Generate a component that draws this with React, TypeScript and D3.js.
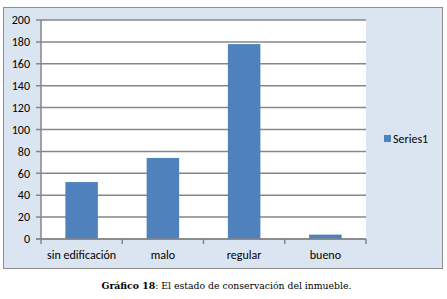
import React from 'react';
import * as d3 from 'd3';

const categories = ['sin edificación', 'malo', 'regular', 'bueno'];
const values = [52, 74, 178, 4];
const yTicks = [0, 20, 40, 60, 80, 100, 120, 140, 160, 180, 200];
const seriesName = 'Series1';

const W = 447;
const H = 299;
const plot = {left: 41, top: 20, right: 366, bottom: 239};
const font = 'Calibri, Carlito, "Open Sans", sans-serif';

export default function App() {
    const x = d3.scaleBand<string>()
        .domain(categories)
        .range([plot.left, plot.right])
        .paddingInner(0.6)
        .paddingOuter(0.3);
    const y = d3.scaleLinear().domain([0, 200]).range([plot.bottom, plot.top]);

    const step = (plot.right - plot.left) / categories.length;
    const bounds = d3.range(categories.length + 1).map(i => plot.left + i * step);

    return (
        <svg width={W} height={H} style={{position: 'absolute', left: 0, top: 0}}>
            <rect x={0} y={0} width={W} height={H} fill="#fff"/>
            <rect x={3.5} y={7.5} width={439} height={261} fill="#dbe5f1" stroke="#8e8e8e" strokeWidth={1}/>
            <rect x={plot.left} y={plot.top} width={plot.right - plot.left} height={plot.bottom - plot.top} fill="#fff"/>
            {yTicks.map(t => (
                <g key={t}>
                    <line x1={plot.left - 5} x2={plot.right} y1={y(t)} y2={y(t)}
                          stroke="#868686" strokeWidth={1.5}/>
                    <text x={30} y={y(t)} dy="0.35em" textAnchor="end"
                          fontFamily={font} fontSize={12} fill="#000">{t}</text>
                </g>
            ))}
            {categories.map((c, i) => (
                <rect key={c} x={x(c)} y={y(values[i])} width={x.bandwidth()}
                      height={plot.bottom - y(values[i])} fill="#4f81bd"/>
            ))}
            <line x1={plot.left} x2={plot.left} y1={plot.top} y2={plot.bottom}
                  stroke="#868686" strokeWidth={1.5}/>
            <line x1={plot.left - 5} x2={plot.right} y1={plot.bottom} y2={plot.bottom}
                  stroke="#868686" strokeWidth={1.5}/>
            {bounds.map((b, i) => (
                <line key={i} x1={b} x2={b} y1={plot.bottom} y2={plot.bottom + 5}
                      stroke="#868686" strokeWidth={1.5}/>
            ))}
            {categories.map(c => (
                <text key={c} x={(x(c) as number) + x.bandwidth() / 2} y={255} dy="0.35em"
                      textAnchor="middle" fontFamily={font} fontSize={12} fill="#000">{c}</text>
            ))}
            <rect x={384} y={135} width={7} height={7} fill="#4f81bd"/>
            <text x={393} y={138.5} dy="0.35em" fontFamily={font} fontSize={12} fill="#000">{seriesName}</text>
            <text x={W / 2 + 3} y={288.5} textAnchor="middle" fontFamily='"Century Schoolbook", "DejaVu Serif", serif'
                  fontSize={9.3} fill="#000">
                <tspan fontWeight="bold">Gráfico 18</tspan>: El estado de conservación del inmueble.
            </text>
        </svg>
    );
}
